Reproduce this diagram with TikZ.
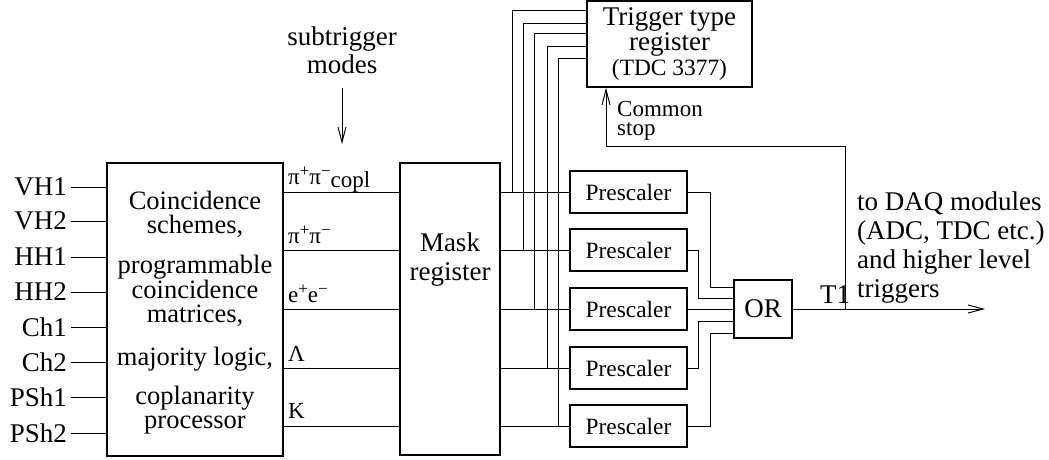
\documentclass[tikz,border=0pt]{standalone}
\usepackage{fontspec}
\setmainfont{Liberation Serif}
\usetikzlibrary{arrows.meta,calc}
\newcommand{\supsym}[1]{\raisebox{7.5pt}{\fontsize{17}{17}\selectfont #1}}
\begin{document}
\begin{tikzpicture}[x=1pt,y=-1pt,
 box/.style={draw,line width=1.8pt,inner sep=0pt},
 wire/.style={line width=1pt},
 arr/.style={wire,-{Straight Barb[length=15pt,width=8pt]}},
 big/.style={font=\fontsize{27}{24}\selectfont},
 small/.style={font=\fontsize{23.4}{25}\selectfont},
 lab/.style={big,anchor=east,inner sep=4pt},
 olab/.style={font=\fontsize{23}{25}\selectfont,anchor=base west,inner sep=0pt},
]
\useasboundingbox (0,0) rectangle (1049,459);

% coincidence box
\node[box,minimum width=176pt,minimum height=293pt] (coin) at (195,309.5) {};
\node[align=center,inner sep=0pt,font=\fontsize{26.5}{24}\selectfont] (cointext) at (195,313) {Coincidence\\schemes,\\[16pt]programmable\\coincidence\\matrices,\\[19pt]majority logic,\\[14pt]coplanarity\\processor};

% inputs
\foreach \n/\t/\y in {1/VH1/187,2/VH2/221,3/HH1/257,4/HH2/292,5/Ch1/327,6/Ch2/362,7/PSh1/397,8/PSh2/433}{
  \node[lab] (in\n) at (71,\y) {\t};
  \draw[wire] (in\n.east) -- (in\n.east -| coin.west);
}

% mask register
\node[box,minimum width=100pt,minimum height=292pt] (mask) at (450,309) {};
\node[align=center,inner sep=0pt,font=\fontsize{27}{29}\selectfont] (masktext) at (450,260) {Mask\\register};

% trigger type register
\node[box,align=center,minimum width=165pt,minimum height=86pt,font=\fontsize{27}{25}\selectfont] (trig) at (669.5,44) {Trigger type\\register\\{\fontsize{23.4}{25}\selectfont(TDC 3377)}};

% prescalers and lines
\foreach \i/\y in {1/192,2/250,3/309,4/368,5/426}{
  \node[box,small,minimum width=117pt,minimum height=42pt] (pre\i) at (628.5,\y) {Prescaler};
  \draw[wire] (coin.east |- pre\i) -- (mask.west |- pre\i);
  \draw[wire] (mask.east |- pre\i) -- (pre\i.west);
}

% output labels
\node[olab] (l1) at (288,184) {π\supsym{+}π\supsym{−}\raisebox{-3pt}{copl}};
\node[olab] (l2) at (288,243) {π\supsym{+}π\supsym{−}};
\node[olab] (l3) at (288,302) {e\supsym{+}e\supsym{−}};
\node[olab] (l4) at (288,361) {Λ};
\node[olab] (l5) at (288,418) {K};

% taps to trigger type register
\foreach \i/\x/\s in {1/512/34,2/523/21,3/534/11,4/547/-2,5/558/-14}{
  \coordinate (tap\i) at (\x,0 |- pre\i.west);
  \draw[wire] (tap\i) |- ([yshift=\s pt]trig.west);
}

% OR
\node[box,big,minimum size=58pt] (or) at (763,309) {OR};
\draw[wire] (pre1.east) -- ++(23,0) |- ([yshift=22pt]or.west);
\draw[wire] (pre2.east) -- ++(11,0) |- ([yshift=11pt]or.west);
\draw[wire] (pre3.east) -- (or.west);
\draw[wire] (pre4.east) -- ++(11,0) |- ([yshift=-12pt]or.west);
\draw[wire] (pre5.east) -- ++(23,0) |- ([yshift=-24pt]or.west);

% T1 output
\coordinate (daq) at (985,309);
\draw[arr] (or.east) -- (daq);
\node[big,anchor=base west,inner sep=0pt] (t1) at (820,303) {T1};
\node[anchor=north west,align=left,inner sep=0pt,font=\fontsize{27}{29}\selectfont] (daqtext) at (857,191.5) {to DAQ modules\\(ADC, TDC etc.)\\and higher level\\triggers};

% common stop
\coordinate (tj) at (845,309);
\coordinate (cs) at (606,146);
\draw[arr] (tj) |- (cs) -- (cs |- trig.south);
\node[anchor=north west,align=left,inner sep=0pt,font=\fontsize{23}{19.5}\selectfont] (cstext) at (617,101) {Common\\stop};

% subtrigger modes
\node[anchor=north,align=center,inner sep=0pt,font=\fontsize{27}{28}\selectfont] (subtrig) at (342,26.5) {subtrigger\\modes};
\coordinate (st) at (342,144);
\draw[arr,shorten <=14pt] (subtrig.south) -- (st);
\end{tikzpicture}
\end{document}
